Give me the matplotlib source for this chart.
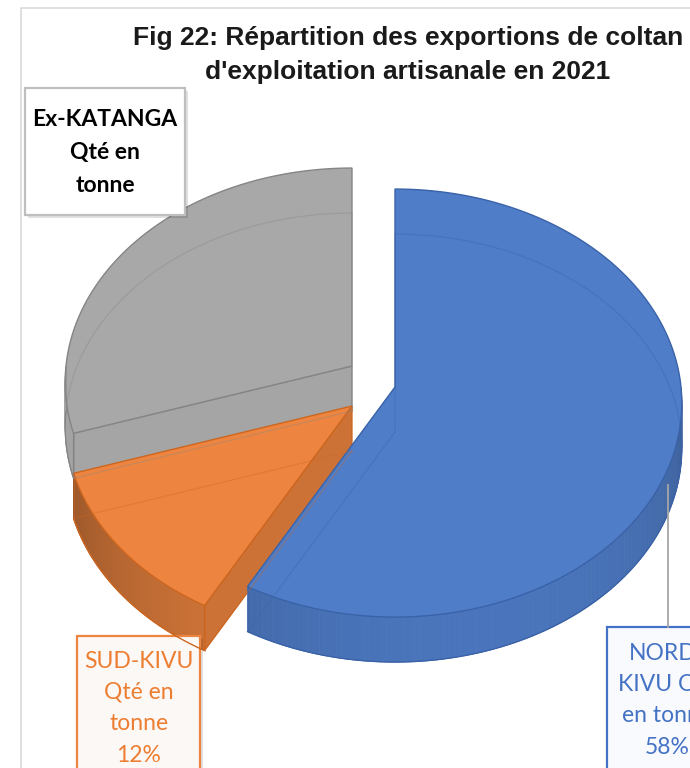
import numpy as np
import matplotlib.pyplot as plt
from matplotlib.patches import Polygon, Rectangle
from matplotlib.colors import to_rgb

# Donnees : repartition des exportations de coltan artisanal 2021 (%)
regions = ['NORD-KIVU', 'SUD-KIVU', 'Ex-KATANGA']
parts = [58, 12, 30]
label_lines = [['NORD-', 'KIVU Qté', 'en tonne'],
               ['SUD-KIVU', 'Qté en', 'tonne'],
               ['Ex-KATANGA', 'Qté en', 'tonne']]
show_pct = [True, True, False]
title_lines = ["Fig 22: Répartition des exportions de coltan",
               "d'exploitation artisanale en 2021"]

# Style
top_colors = ['#4F7DC8', '#ED8540', '#A8A8A8']
edge_colors = ['#3A62A8', '#CC661F', '#858585']
radial_shade = [0.86, 0.86, 0.98]
apexes = [(395, 387), (352, 406), (352, 366)]   # centres apres eclatement
RX, A, B, DEPTH = 286.0, 212.8, 0.075, 45.0


def proj(theta, apex, z=0.0):
    """ angle en degres, sens horaire depuis le haut -> coordonnees pixel """
    t = np.radians(theta)
    u, v = np.sin(t), np.cos(t)
    f = 1.0 / (1.0 + B * v)
    return apex[0] + RX * u * f, apex[1] - A * v * f + z


def shade(col, k):
    r, g, b = to_rgb(col)
    return (min(r * k, 1), min(g * k, 1), min(b * k, 1))


fig = plt.figure(figsize=(6.9, 7.68), dpi=100)
ax = fig.add_axes([0, 0, 1, 1])
ax.set_xlim(0, 690)
ax.set_ylim(768, 0)
ax.axis('off')

# cadre de la zone graphique
ax.plot([21, 21, 690], [768, 8, 8], color='#D9D9D9', lw=1.2)

# angles des tranches
bounds = np.concatenate([[0], np.cumsum(parts)]) * 360.0 / sum(parts)
slices = [(bounds[i], bounds[i + 1]) for i in range(len(parts))]

# ordre de dessin : de l'arriere vers l'avant
for i in [2, 1, 0]:
    a0, a1 = slices[i]
    apex = apexes[i]
    col, ecol = top_colors[i], edge_colors[i]
    thetas = np.linspace(a0, a1, 200)

    # paroi exterieure visible (partie avant)
    vis = thetas[np.cos(np.radians(thetas)) < 0]
    if len(vis) > 1:
        for t0, t1 in zip(vis[:-1], vis[1:]):
            tm = np.radians(0.5 * (t0 + t1))
            n = np.array([np.sin(tm), np.cos(tm)])
            lum = np.dot(n, np.array([0.3, -1.0]) / np.hypot(0.3, 1.0))
            k = 0.66 + 0.28 * max(lum, 0)
            if i == 2:
                k = 0.97
            p = [proj(t0, apex), proj(t1, apex), proj(t1, apex, DEPTH), proj(t0, apex, DEPTH)]
            ax.add_patch(Polygon(p, closed=True, fc=shade(col, k), ec=shade(col, k), lw=0.6))
        rim_b = [proj(t, apex, DEPTH) for t in vis]
        ax.plot([q[0] for q in rim_b], [q[1] for q in rim_b], color=ecol, lw=0.9)
        for t in (vis[0], vis[-1]):
            p0, p1 = proj(t, apex), proj(t, apex, DEPTH)
            ax.plot([p0[0], p1[0]], [p0[1], p1[1]], color=ecol, lw=0.6, alpha=0.6)

    # parois radiales visibles
    for phi, start in ((a0, True), (a1, False)):
        s = np.sin(np.radians(phi))
        if (start and s < -1e-6) or ((not start) and s > 1e-6):
            p = [(apex[0], apex[1]), proj(phi, apex), proj(phi, apex, DEPTH),
                 (apex[0], apex[1] + DEPTH)]
            ax.add_patch(Polygon(p, closed=True, fc=shade(col, radial_shade[i]), ec=ecol, lw=0.9))

    # face superieure
    rim = [proj(t, apex) for t in thetas]
    ax.add_patch(Polygon([apex] + rim, closed=True, fc=col, ec=ecol, lw=1.0))

    # aretes cachees vues par transparence
    low = [(apex[0], apex[1] + DEPTH)] + [proj(t, apex, DEPTH) for t in thetas] + [(apex[0], apex[1] + DEPTH)]
    ax.plot([q[0] for q in low], [q[1] for q in low], color=ecol, lw=0.9, alpha=0.35)

# titre
for j, line in enumerate(title_lines):
    ax.text(408, 38 + 34 * j, line, ha='center', va='center', fontsize=19, fontweight='bold',
            family=['Liberation Sans', 'DejaVu Sans'], color='#1A1A1A')

# etiquettes de donnees
lab_font = ['Lato', 'DejaVu Sans']


def label_box(x0, y0, x1, y1, ec, fc, shadow=True):
    if shadow:
        ax.add_patch(Rectangle((x0 + 3, y0 + 3), x1 - x0, y1 - y0, fc='#000000', alpha=0.12, ec='none'))
    ax.add_patch(Rectangle((x0, y0), x1 - x0, y1 - y0, fc=fc, ec=ec, lw=1.6))


# Ex-KATANGA
label_box(25, 88, 185, 215, '#BFBFBF', 'white')
for j, line in enumerate(label_lines[2]):
    ax.text(105, 119 + 33 * j, line, ha='center', va='center', fontsize=16.5,
            fontweight='bold', family=lab_font, color='black')

# SUD-KIVU
label_box(77, 636, 200, 790, top_colors[1], '#FCF8F6')
lines = label_lines[1] + ([f'{parts[1]}%'] if show_pct[1] else [])
for j, line in enumerate(lines):
    ax.text(139, 661 + 31.5 * j, line, ha='center', va='center', fontsize=16.5,
            family=lab_font, color='#ED7D31')

# NORD-KIVU + ligne de rappel
ax.plot([668, 668], [485, 627], color='#A6A6A6', lw=1.3)
label_box(607, 627, 760, 790, '#4472C4', '#F8FAFD', shadow=False)
lines = label_lines[0] + ([f'{parts[0]}%'] if show_pct[0] else [])
for j, line in enumerate(lines):
    ax.text(667, 653 + 31.5 * j, line, ha='center', va='center', fontsize=16.5,
            family=lab_font, color='#4472C4')

fig.savefig('out.png', dpi=100)
